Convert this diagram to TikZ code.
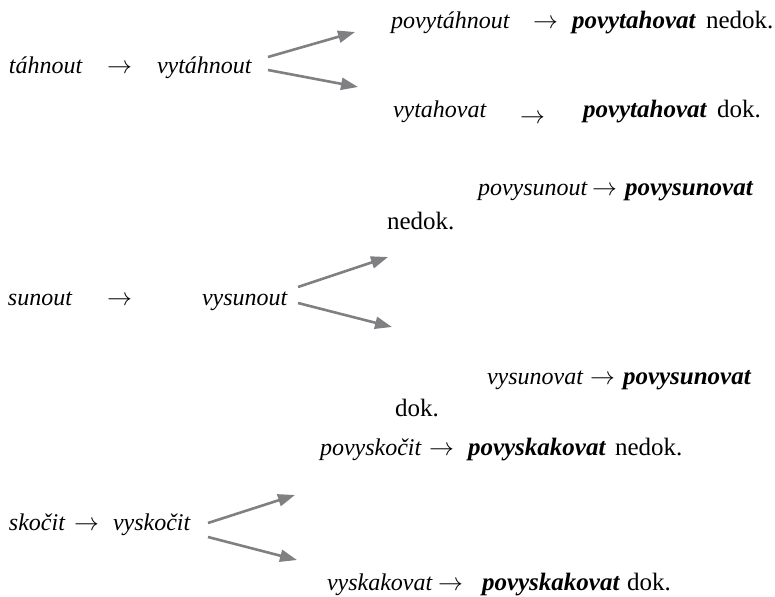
\documentclass[tikz,border=0pt]{standalone}
\usepackage{fontspec}
\setmainfont{Liberation Serif}
\usetikzlibrary{arrows.meta}
\definecolor{arrowgray}{RGB}{128,128,130}
\tikzset{
  itw/.style={anchor=base west, inner sep=0pt, outer sep=0pt, font=\fontsize{24}{28}\selectfont\itshape},
  bdw/.style={anchor=base west, inner sep=0pt, outer sep=0pt, font=\fontsize{25}{30}\selectfont\bfseries\itshape},
  rgw/.style={anchor=base west, inner sep=0pt, outer sep=0pt, font=\fontsize{25}{30}\selectfont},
  arw/.style={anchor=base west, inner sep=0pt, outer sep=0pt, font=\fontsize{24}{28}\selectfont},
  garrow/.style={draw=arrowgray, line width=2.6pt, -{Triangle[length=17pt,width=12pt]}}
}
\begin{document}
\begin{tikzpicture}[x=1pt,y=-1pt]
\useasboundingbox (0,0) rectangle (775,596);
% section 1
\node[itw] (t1) at (9,74) {táhnout};
\node[arw] (t1a) at (107,74) {$\rightarrow$};
\node[itw] (t2) at (157,74) {vytáhnout};
\node[itw] (t3) at (391,29) {povytáhnout};
\node[arw] (t3a) at (533,29) {$\rightarrow$};
\node[bdw] (t3b) at (572,29) {povytahovat};
\node[rgw] (t3c) at (706,29) {nedok.};
\node[itw] (t4) at (393,118) {vytahovat};
\node[arw] (t4a) at (520,124) {$\rightarrow$};
\node[bdw] (t4b) at (583,118) {povytahovat};
\node[rgw] (t4c) at (717,118) {dok.};
\coordinate (t2u) at (268,57);
\coordinate (t2d) at (268,70);
\coordinate (t3e) at (355,32);
\coordinate (t4e) at (358,87);
\draw[garrow] (t2u) -- (t3e);
\draw[garrow] (t2d) -- (t4e);
% section 2
\node[itw] (s1) at (8,305) {sunout};
\node[arw] (s1a) at (107,305) {$\rightarrow$};
\node[itw] (s2) at (202,305) {vysunout};
\node[itw] (s3) at (478,195) {povysunout};
\node[arw] (s3a) at (592,195) {$\rightarrow$};
\node[bdw] (s3b) at (625,195) {povysunovat};
\node[rgw] (s3c) at (387,229) {nedok.};
\node[itw] (s4) at (487,384) {vysunovat};
\node[arw] (s4a) at (590,384) {$\rightarrow$};
\node[bdw] (s4b) at (623,384) {povysunovat};
\node[rgw] (s4c) at (395,416) {dok.};
\coordinate (s2u) at (298,287);
\coordinate (s2d) at (298,303);
\coordinate (s3e) at (388,257);
\coordinate (s4e) at (392,327);
\draw[garrow] (s2u) -- (s3e);
\draw[garrow] (s2d) -- (s4e);
% section 3
\node[itw] (k1) at (9,530) {skočit};
\node[arw] (k1a) at (74,530) {$\rightarrow$};
\node[itw] (k2) at (113,530) {vyskočit};
\node[itw] (k3) at (320,455) {povyskočit};
\node[arw] (k3a) at (429,455) {$\rightarrow$};
\node[bdw] (k3b) at (468,455) {povyskakovat};
\node[rgw] (k3c) at (615,455) {nedok.};
\node[itw] (k4) at (327,590) {vyskakovat};
\node[arw] (k4a) at (438,590) {$\rightarrow$};
\node[bdw] (k4b) at (482,590) {povyskakovat};
\node[rgw] (k4c) at (627,590) {dok.};
\coordinate (k2u) at (208,523);
\coordinate (k2d) at (208,537);
\coordinate (k3e) at (295,495);
\coordinate (k4e) at (297,560);
\draw[garrow] (k2u) -- (k3e);
\draw[garrow] (k2d) -- (k4e);
\end{tikzpicture}
\end{document}
